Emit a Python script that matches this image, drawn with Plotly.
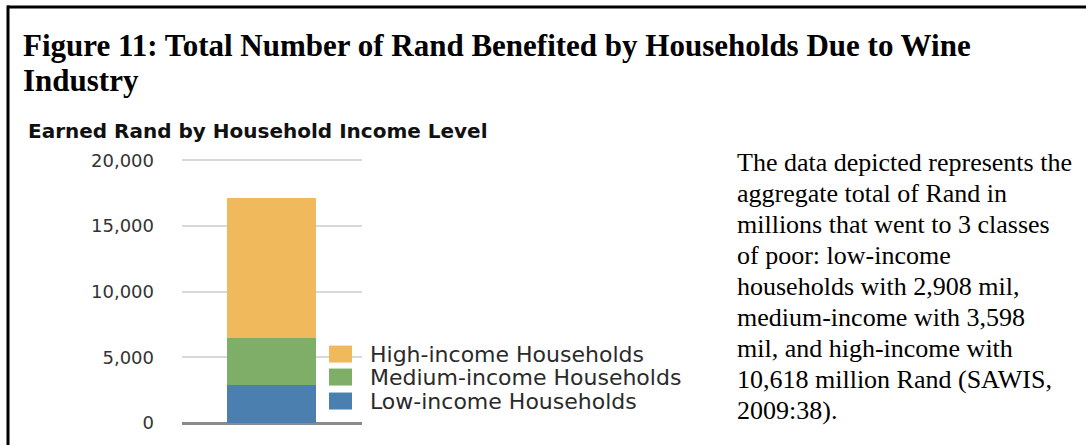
import plotly.graph_objects as go

# ---- data ----
categories = ["Households"]
series_names = ["Low-income Households", "Medium-income Households", "High-income Households"]
low_income = [2908]
medium_income = [3598]
high_income = [10618]
series_values = [low_income, medium_income, high_income]
series_colors = ["#4a7fb0", "#7eae68", "#f0ba5c"]
y_ticks = [0, 5000, 10000, 15000, 20000]
y_tick_labels = ["0", "5,000", "10,000", "15,000", "20,000"]
y_max = 20400

title_lines = ["Figure 11: Total Number of Rand Benefited by Households Due to Wine", "Industry"]
subtitle = "Earned Rand by Household Income Level"
paragraph = [
    "The data depicted represents the",
    "aggregate total of Rand in",
    "millions that went to 3 classes",
    "of poor: low-income",
    "households with 2,908 mil,",
    "medium-income with 3,598",
    "mil, and high-income with",
    "10,618 million Rand (SAWIS,",
    "2009:38).",
]

W, H = 1086, 445
L, R, B = 182, 362, 423  # plot area in pixels
T = B - 263.0 * y_max / 20000.0

SERIF = "Liberation Serif, Times New Roman, serif"
SANS = "DejaVu Sans, Arial, sans-serif"


def px(x):
    return (x - L) / (R - L)


def py(y):
    return (B - y) / (B - T)


fig = go.Figure()
for name, vals, col in zip(series_names, series_values, series_colors):
    fig.add_trace(go.Bar(
        x=[0.497], y=vals, name=name, width=0.494,
        marker=dict(color=col, line=dict(width=0)),
        showlegend=False,
    ))

shapes = []
annotations = []

# border (left and top)
shapes.append(dict(type="line", xref="paper", yref="paper", x0=px(8), x1=px(8), y0=py(5), y1=py(450),
                   line=dict(color="black", width=3)))
shapes.append(dict(type="line", xref="paper", yref="paper", x0=px(7), x1=px(1090), y0=py(6.5), y1=py(6.5),
                   line=dict(color="black", width=3)))

# titles
annotations.append(dict(text="<b>" + title_lines[0] + "</b>", xref="paper", yref="paper",
                        x=px(21), y=py(45), xanchor="left", yanchor="middle", showarrow=False,
                        font=dict(family=SERIF, size=31, color="black")))
annotations.append(dict(text="<b>" + title_lines[1] + "</b>", xref="paper", yref="paper",
                        x=px(21), y=py(80), xanchor="left", yanchor="middle", showarrow=False,
                        font=dict(family=SERIF, size=31, color="black")))
annotations.append(dict(text="<b>" + subtitle + "</b>", xref="paper", yref="paper",
                        x=px(26), y=py(131), xanchor="left", yanchor="middle", showarrow=False,
                        font=dict(family=SANS, size=20, color="#111111")))

# custom legend (top to bottom: high, medium, low)
leg_rows = [(354, 2), (377, 1), (401, 0)]
for yc, idx in leg_rows:
    shapes.append(dict(type="rect", xref="paper", yref="paper",
                       x0=px(329), x1=px(352), y0=py(yc - 8.5), y1=py(yc + 8.5),
                       fillcolor=series_colors[idx], line=dict(width=0), layer="above"))
    annotations.append(dict(text=series_names[idx], xref="paper", yref="paper",
                            x=px(368), y=py(yc), xanchor="left", yanchor="middle", showarrow=False,
                            font=dict(family=SANS, size=22, color="#2a2a2a")))

# paragraph
for i, line in enumerate(paragraph):
    annotations.append(dict(text=line, xref="paper", yref="paper",
                            x=px(735), y=py(162 + 31 * i), xanchor="left", yanchor="middle", showarrow=False,
                            font=dict(family=SERIF, size=26, color="black")))

fig.update_layout(
    width=W, height=H,
    margin=dict(l=L, r=W - R, t=T, b=H - B, pad=0),
    paper_bgcolor="white", plot_bgcolor="white",
    barmode="stack", bargap=0,
    showlegend=False,
    shapes=shapes, annotations=annotations,
    xaxis=dict(range=[0, 1], visible=False, fixedrange=True),
    yaxis=dict(range=[0, y_max], tickvals=y_ticks, ticktext=y_tick_labels,
               showgrid=True, gridcolor="#d9d9d9", gridwidth=2,
               zeroline=True, zerolinecolor="#8a8a8a", zerolinewidth=2.5,
               showline=False, ticks="", ticklabelstandoff=27,
               tickfont=dict(family=SANS, size=18, color="#333333")),
)

fig.write_html("out.html", config={"displayModeBar": False},
               post_script="document.body.style.margin='0px';")
